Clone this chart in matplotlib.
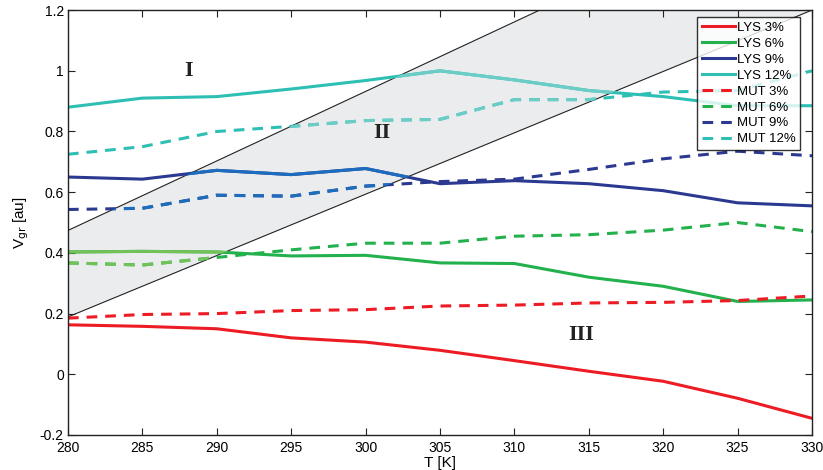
import matplotlib.pyplot as plt
import numpy as np
from matplotlib.patches import Polygon

plt.rcParams['font.family'] = ['Liberation Sans', 'DejaVu Sans']

# temperatures (K)
temps = [280, 285, 290, 295, 300, 305, 310, 315, 320, 325, 330]

# growth velocity
lys3 = [0.163, 0.158, 0.150, 0.120, 0.106, 0.079, 0.045, 0.010, -0.023, -0.079, -0.145]
lys6 = [0.403, 0.405, 0.403, 0.390, 0.392, 0.367, 0.365, 0.320, 0.290, 0.240, 0.245]
lys9 = [0.650, 0.643, 0.672, 0.658, 0.678, 0.628, 0.638, 0.628, 0.605, 0.565, 0.555]
lys12 = [0.880, 0.910, 0.915, 0.940, 0.968, 1.000, 0.970, 0.935, 0.915, 0.885, 0.885]
mut3 = [0.185, 0.197, 0.200, 0.210, 0.213, 0.225, 0.228, 0.235, 0.237, 0.243, 0.258]
mut6 = [0.367, 0.360, 0.385, 0.410, 0.432, 0.432, 0.455, 0.460, 0.475, 0.500, 0.470]
mut9 = [0.543, 0.547, 0.590, 0.587, 0.620, 0.635, 0.643, 0.675, 0.710, 0.735, 0.720]
mut12 = [0.725, 0.750, 0.800, 0.817, 0.836, 0.840, 0.905, 0.905, 0.930, 0.935, 1.000]

# boundaries of region II (two straight lines)
upper_T = [280, 311.7]
upper_V = [0.474, 1.2]
lower_T = [280, 330]
lower_V = [0.189, 1.2]

red = '#ed1c24'
green = '#22b14c'
blue = '#2b3990'
cyan = '#2ebfb4'
# the colours look shifted inside the grey band
band_colors = {red: '#ee2a35', green: '#72c257', blue: '#1c6dbd', cyan: '#6ccdc7'}

series = [
    ('LYS 3%', lys3, red, '-'),
    ('LYS 6%', lys6, green, '-'),
    ('LYS 9%', lys9, blue, '-'),
    ('LYS 12%', lys12, cyan, '-'),
    ('MUT 3%', mut3, red, '--'),
    ('MUT 6%', mut6, green, '--'),
    ('MUT 9%', mut9, blue, '--'),
    ('MUT 12%', mut12, cyan, '--'),
]

fig = plt.figure(figsize=(8.23, 4.70), dpi=100)
ax = fig.add_axes([0.0826, 0.0745, 0.904, 0.904])

# grey band between the two boundary lines
slope_u = (upper_V[1] - upper_V[0]) / (upper_T[1] - upper_T[0])
slope_l = (lower_V[1] - lower_V[0]) / (lower_T[1] - lower_T[0])
far_T = 340
band = Polygon([(280, upper_V[0]), (280 + (1.2 - upper_V[0]) / slope_u, 1.2),
                (far_T, 1.2 + 2), (far_T, lower_V[0] + slope_l * (far_T - 280)),
                (280, lower_V[0])],
               closed=True, facecolor='#ebecee', edgecolor='none', zorder=1)
ax.add_patch(band)
ax.plot(upper_T, upper_V, color='#222222', lw=0.8, zorder=2)
ax.plot(lower_T, lower_V, color='#222222', lw=0.8, zorder=2)

for label, vals, col, ls in series:
    dash = (3.5, 2.6) if ls == '--' else (None, None)
    ax.plot(temps, vals, color=col, ls=ls, lw=2.2, dashes=dash, label=label, zorder=3)
    # same line again, only inside the band, in the shifted colour
    clip = Polygon(band.get_xy(), closed=True, transform=ax.transData)
    l2, = ax.plot(temps, vals, color=band_colors[col], ls=ls, lw=2.2, dashes=dash, zorder=4)
    l2.set_clip_path(clip)

# region labels
for txt, tx, ty in [('I', 288.1, 1.0), ('II', 301.1, 0.794), ('III', 314.5, 0.128)]:
    ax.text(tx, ty, txt, fontsize=16, fontweight='bold', family='Liberation Serif',
            ha='center', va='center', color='#222222', zorder=5)

ax.set_xlim(280, 330)
ax.set_ylim(-0.2, 1.2)
ax.set_xticks(np.arange(280, 331, 5))
ax.set_yticks([-0.2, 0, 0.2, 0.4, 0.6, 0.8, 1, 1.2])
ax.set_yticklabels(['-0.2', '0', '0.2', '0.4', '0.6', '0.8', '1', '1.2'])
ax.tick_params(direction='in', top=True, right=True, length=5, labelsize=10, color='#222222')
ax.tick_params(axis='x', pad=4)
ax.tick_params(axis='y', pad=3)
for s in ax.spines.values():
    s.set_linewidth(1.0)
    s.set_color('#222222')
    s.set_zorder(6)

ax.set_xlabel('T [K]', fontsize=11, labelpad=1)
ax.set_ylabel(r'V$_{\rm gr}$ [au]', fontsize=11, labelpad=6)

leg = ax.legend(loc='upper right', bbox_to_anchor=(800 / 823, 1 - 17 / 470),
                bbox_transform=fig.transFigure, borderaxespad=0,
                fontsize=9.5, frameon=True, fancybox=False,
                handlelength=2.5, handletextpad=0.15, labelspacing=0.28,
                borderpad=0.35)
leg.get_frame().set_edgecolor('black')
leg.get_frame().set_linewidth(1.0)
leg.set_zorder(10)

plt.savefig('out.png', dpi=100)
